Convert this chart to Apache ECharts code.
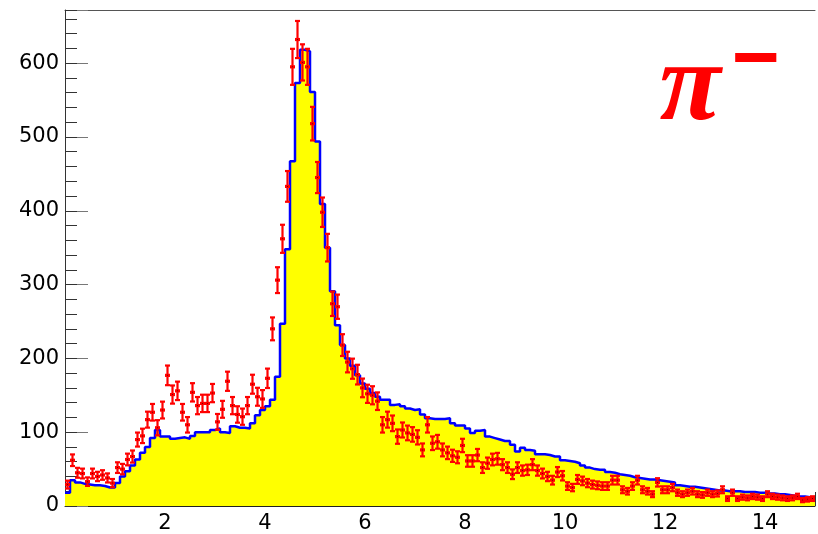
<!DOCTYPE html>
<html>
<head>
<meta charset="utf-8">
<script src="https://cdn.jsdelivr.net/npm/echarts@6/dist/echarts.min.js"></script>
<style>
  html, body { margin: 0; padding: 0; background: #fff; }
  #chart { width: 818px; height: 534px; }
</style>
</head>
<body>
<div id="chart"></div>
<script>
// histogram binning: 150 bins of 0.1 from 0 to 15
const binWidth = 0.1;
const xMin = 0;
const xMax = 15;
const yMax = 672;

// simulation (yellow histogram, blue outline), one value per bin
const mcCounts = [
  18, 35, 32, 30, 29, 28, 28, 27, 25, 25,
  31, 40, 47, 55, 63, 72, 80, 92, 103, 94,
  94, 91, 92, 93, 91, 95, 100, 100, 100, 103,
  105, 100, 99, 108, 106, 106, 105, 112, 123, 130,
  135, 144, 175, 247, 348, 467, 573, 618, 616, 561,
  494, 409, 350, 291, 245, 218, 200, 190, 177, 166,
  159, 153, 148, 144, 144, 137, 138, 135, 132, 130,
  131, 124, 119, 118, 118, 118, 119, 112, 109, 109,
  105, 99, 102, 103, 94, 92, 90, 88, 88, 83,
  74, 79, 76, 75, 70, 70, 69, 67, 67, 62,
  61, 60, 58, 55, 52, 50, 49, 49, 46, 45,
  43, 42, 41, 39, 38, 37, 36, 36, 35, 34,
  33, 32, 28, 27, 26, 26, 25, 24, 23, 22,
  21, 21, 20, 20, 20, 19, 19, 19, 18, 18,
  17, 17, 16, 16, 15, 14, 13, 13, 12, 12
];

// measured data (red points), one value per bin
const dataCounts = [
  29, 62, 45, 44, 33, 44, 40, 42, 38, 31,
  52, 50, 63, 67, 90, 95, 117, 127, 106, 130,
  177, 151, 156, 127, 110, 154, 136, 139, 139, 153,
  114, 131, 169, 136, 124, 121, 136, 165, 148, 145,
  173, 240, 306, 362, 433, 595, 632, 601, 595, 518,
  445, 398, 350, 274, 270, 218, 195, 186, 178, 160,
  152, 150, 142, 110, 117, 112, 94, 103, 99, 97,
  93, 76, 110, 85, 87, 76, 72, 68, 66, 82,
  61, 61, 69, 52, 58, 63, 64, 56, 52, 43,
  52, 48, 49, 56, 48, 44, 40, 35, 46, 41,
  27, 25, 36, 34, 31, 29, 28, 27, 27, 35,
  35, 22, 20, 27, 35, 22, 20, 16, 32, 22,
  22, 25, 18, 16, 18, 20, 16, 15, 18, 16,
  17, 22, 10, 18, 10, 12, 11, 13, 12, 10,
  16, 13, 12, 11, 10, 11, 13, 8, 9, 10
];

const yTickLabels = [0, 100, 200, 300, 400, 500, 600];
const xTickLabels = [2, 4, 6, 8, 10, 12, 14];

// step outline: one point per lower bin edge, plus the last upper edge
const histData = mcCounts.map((v, i) => [xMin + i * binWidth, v]);
histData.push([xMin + mcCounts.length * binWidth, mcCounts[mcCounts.length - 1]]);

// points at bin centres, poisson errors
const pointData = dataCounts.map((v, i) => [xMin + (i + 0.5) * binWidth, v, Math.sqrt(v)]);

const labelFont = 'DejaVu Sans';

var myChart = echarts.init(document.getElementById('chart'));
var option = {
    animation: false,
    backgroundColor: '#fff',
    grid: { left: 65, right: -4, top: 10, bottom: 26, containLabel: false },
    xAxis: [
        {
            type: 'value', min: xMin, max: xMax, interval: 2, position: 'bottom',
            axisLine: { show: true, lineStyle: { color: '#222', width: 1 } },
            axisTick: { show: true, inside: true, length: 14, lineStyle: { color: '#333' } },
            axisLabel: {
                margin: 7, color: '#000', fontFamily: labelFont, fontSize: 21,
                formatter: (v) => xTickLabels.indexOf(v) >= 0 ? String(v) : ''
            },
            splitLine: { show: false }
        },
        {
            type: 'value', min: xMin, max: xMax, interval: 0.5, position: 'bottom',
            axisLine: { show: false },
            axisTick: { show: true, inside: true, length: 7, lineStyle: { color: '#333' } },
            axisLabel: { show: false },
            splitLine: { show: false }
        },
        {
            type: 'value', min: xMin, max: xMax, position: 'top',
            axisLine: { show: true, lineStyle: { color: '#555', width: 1 } },
            axisTick: { show: false },
            axisLabel: { show: false },
            splitLine: { show: false }
        }
    ],
    yAxis: [
        {
            type: 'value', min: 0, max: yMax, interval: 100, position: 'left',
            axisLine: { show: true, lineStyle: { color: '#333', width: 1 } },
            axisTick: { show: true, inside: true, length: 23, lineStyle: { color: '#777' } },
            axisLabel: {
                margin: 6, color: '#000', fontFamily: labelFont, fontSize: 21,
                formatter: (v) => yTickLabels.indexOf(v) >= 0 ? String(v) : ''
            },
            splitLine: { show: false }
        },
        {
            type: 'value', min: 0, max: yMax, interval: 20, position: 'left',
            axisLine: { show: false },
            axisTick: { show: true, inside: true, length: 12, lineStyle: { color: '#333' } },
            axisLabel: { show: false },
            splitLine: { show: false }
        }
    ],
    series: [
        {
            name: 'simulation',
            type: 'line',
            xAxisIndex: 0, yAxisIndex: 0,
            step: 'end',
            symbol: 'none',
            data: histData,
            lineStyle: { color: '#0000ff', width: 2.5 },
            areaStyle: { color: '#ffff00', opacity: 1 },
            z: 2
        },
        {
            name: 'data',
            type: 'custom',
            xAxisIndex: 0, yAxisIndex: 0,
            data: pointData,
            clip: true,
            z: 3,
            renderItem: function (params, api) {
                const x = api.value(0), y = api.value(1), e = api.value(2);
                const c = api.coord([x, y]);
                const top = api.coord([x, y + e])[1];
                const bot = api.coord([x, Math.max(y - e, 0)])[1];
                const l = api.coord([x - binWidth / 2, y])[0];
                const r = api.coord([x + binWidth / 2, y])[0];
                const cap = 2.5;
                const st = { stroke: '#ff0000', lineWidth: 2.2 };
                return {
                    type: 'group',
                    children: [
                        { type: 'line', shape: { x1: c[0], y1: top, x2: c[0], y2: bot }, style: st },
                        { type: 'line', shape: { x1: c[0] - cap, y1: top, x2: c[0] + cap, y2: top }, style: st },
                        { type: 'line', shape: { x1: c[0] - cap, y1: bot, x2: c[0] + cap, y2: bot }, style: st },
                        { type: 'line', shape: { x1: l, y1: c[1], x2: r, y2: c[1] }, style: { stroke: '#ff0000', lineWidth: 3.2 } },
                        { type: 'rect', shape: { x: c[0] - 0.5, y: c[1] - 0.5, width: 1, height: 1 }, style: { fill: '#800000' } }
                    ]
                };
            }
        }
    ],
    graphic: [
        {
            type: 'text', z: 10,
            style: {
                text: 'π', x: 690, y: 90, textAlign: 'center', textVerticalAlign: 'middle',
                fill: '#ff0000', font: 'italic bold 112px "Liberation Serif"'
            }
        },
        {
            type: 'text', z: 10,
            style: {
                text: '−', x: 756, y: 62, textAlign: 'center', textVerticalAlign: 'middle',
                fill: '#ff0000', font: 'bold 82px "Liberation Sans"'
            }
        }
    ]
};
myChart.setOption(option);
</script>
</body>
</html>
